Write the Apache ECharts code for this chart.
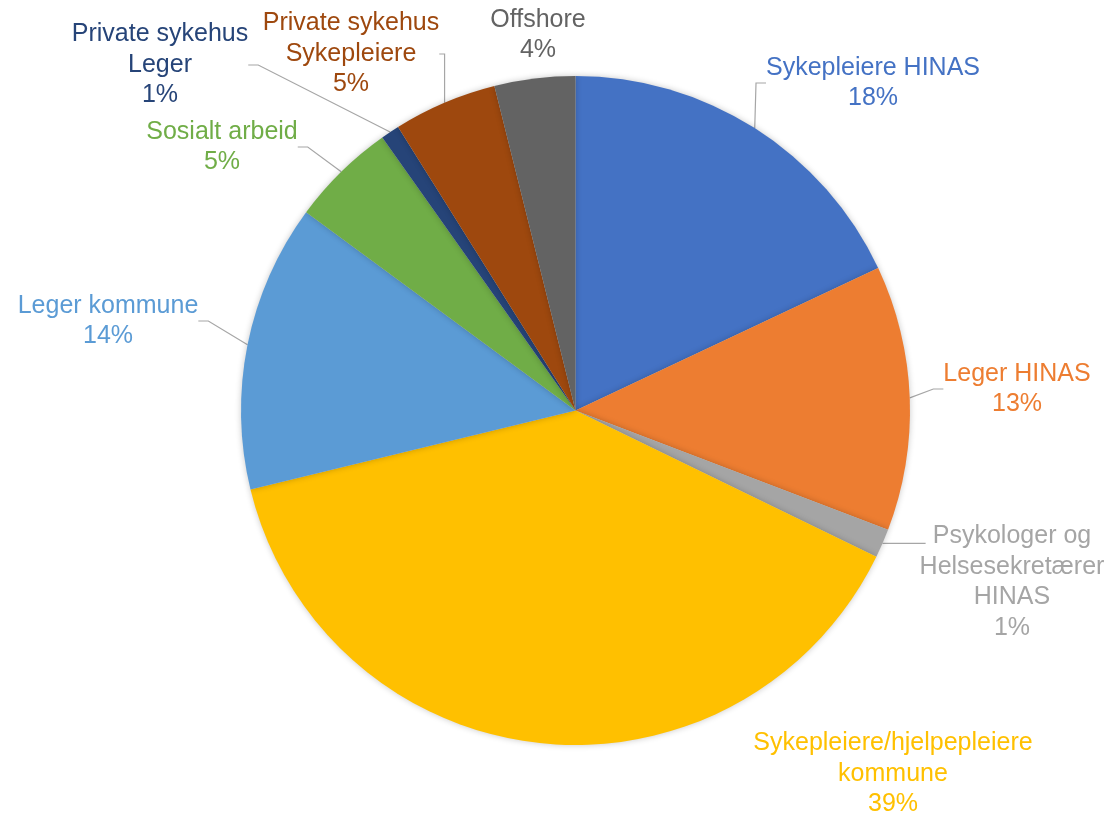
<!DOCTYPE html>
<html>
<head>
<meta charset="utf-8">
<script src="https://cdn.jsdelivr.net/npm/echarts@6/dist/echarts.min.js"></script>
<style>
  html, body { margin: 0; padding: 0; background: #ffffff; }
  #chart { width: 1119px; height: 817px; }
</style>
</head>
<body>
<div id="chart"></div>
<script>
// ---- data ----
const categories = [
  'Sykepleiere HINAS',
  'Leger HINAS',
  'Psykologer og Helsesekretærer HINAS',
  'Sykepleiere/hjelpepleiere kommune',
  'Leger kommune',
  'Sosialt arbeid',
  'Private sykehus Leger',
  'Private sykehus Sykepleiere',
  'Offshore'
];
const values = [18.0, 12.8, 1.4, 39.0, 13.9, 5.1, 0.9, 5.0, 3.9];
// wrapped label text as shown in the chart
const labelText = [
  'Sykepleiere HINAS',
  'Leger HINAS',
  'Psykologer og\nHelsesekretærer\nHINAS',
  'Sykepleiere/hjelpepleiere\nkommune',
  'Leger kommune',
  'Sosialt arbeid',
  'Private sykehus\nLeger',
  'Private sykehus\nSykepleiere',
  'Offshore'
];

// ---- styles / layout ----
const colors = ['#4472C4', '#ED7D31', '#A5A5A5', '#FFC000', '#5B9BD5', '#70AD47', '#264478', '#9E480E', '#636363'];
const showLeader = [true, true, true, false, true, true, true, true, false];
const horizontalLeader = [false, false, true, false, false, false, false, false, false];
const labelCenters = [
  [873, 83], [1017, 389], [1012, 582], [893, 774], [108, 321],
  [222, 147], [160, 65], [351, 54], [538, 35]
];

const chart = echarts.init(document.getElementById('chart'), null, { renderer: 'canvas' });

const data = categories.map((c, i) => ({
  name: c,
  value: values[i],
  itemStyle: { color: colors[i] },
  label: { color: colors[i] },
  labelLine: { show: showLeader[i] }
}));

chart.setOption({
  animation: false,
  backgroundColor: '#ffffff',
  series: [{
    type: 'pie',
    center: [575.5, 410.5],
    radius: 334.5,
    startAngle: 90,
    clockwise: true,
    avoidLabelOverlap: false,
    percentPrecision: 0,
    data: data,
    itemStyle: {
      borderWidth: 0,
      shadowBlur: 6,
      shadowColor: 'rgba(0,0,0,0.22)'
    },
    label: {
      show: true,
      position: 'outside',
      fontFamily: 'Liberation Sans, Arial, sans-serif',
      fontSize: 25,
      lineHeight: 30.5,
      formatter: p => labelText[p.dataIndex] + '\n' + p.percent + '%'
    },
    labelLine: {
      show: true,
      length: 10,
      length2: 10,
      smooth: false,
      lineStyle: { color: '#A6A6A6', width: 1.2 }
    },
    labelLayout: function (params) {
      const i = params.dataIndex;
      const p = labelCenters[i];
      const out = { x: p[0], y: p[1], align: 'center', verticalAlign: 'middle' };
      if (horizontalLeader[i] && params.labelLinePoints) {
        const start = params.labelLinePoints[0];
        const left = p[0] - params.labelRect.width / 2 + 6;
        out.labelLinePoints = [
          [start[0], start[1]],
          [(start[0] + left) / 2, start[1]],
          [left, start[1]]
        ];
      }
      return out;
    },
    emphasis: { disabled: true }
  }]
});
</script>
</body>
</html>
